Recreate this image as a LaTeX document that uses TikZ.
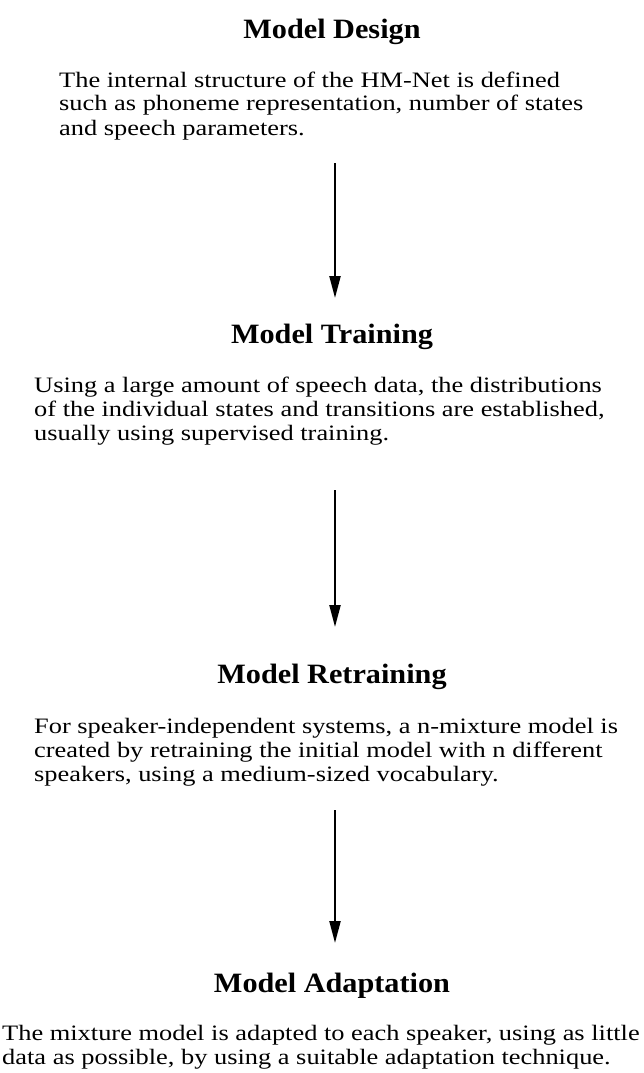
\documentclass[tikz,border=0pt]{standalone}
\usepackage{fontspec}
\setmainfont{Liberation Serif}
\newfontfamily\titlefont{Liberation Serif}[FakeStretch=1.08]
\newfontfamily\bodyfont{Liberation Serif}[FakeStretch=1.2]
\usetikzlibrary{arrows.meta}
\tikzset{
  title/.style={anchor=base, inner sep=0pt, font=\titlefont\bfseries\fontsize{28}{30}\selectfont},
  body/.style={anchor=base west, inner sep=0pt, align=left, font=\bodyfont\fontsize{22}{24}\selectfont},
  flow/.style={line width=2.2pt, -{Triangle[length=22pt,width=11pt]}}
}
\begin{document}
\begin{tikzpicture}[x=1pt,y=-1pt]
\useasboundingbox (0,0) rectangle (643,1073);
\node[title] (t1) at (332,39) {Model Design};
\node[body] (b1) at (59,135) {The internal structure of the HM-Net is defined\\such as phoneme representation, number of states\\and speech parameters.};
\coordinate (a1s) at (335,163);
\coordinate (a1e) at (335,298);
\draw[flow] (a1s) -- (a1e);
\node[title] (t2) at (332,343) {Model Training};
\node[body] (b2) at (34,440) {Using a large amount of speech data, the distributions\\of the individual states and transitions are established,\\usually using supervised training.};
\coordinate (a2s) at (335,490);
\coordinate (a2e) at (335,627);
\draw[flow] (a2s) -- (a2e);
\node[title] (t3) at (332,683) {Model Retraining};
\node[body] (b3) at (34,781) {For speaker-independent systems, a n-mixture model is\\created by retraining the initial model with n different\\speakers, using a medium-sized vocabulary.};
\coordinate (a3s) at (335,810);
\coordinate (a3e) at (335,943);
\draw[flow] (a3s) -- (a3e);
\node[title] (t4) at (332,992) {Model Adaptation};
\node[body] (b4) at (2,1064) {The mixture model is adapted to each speaker, using as little\\data as possible, by using a suitable adaptation technique.};
\end{tikzpicture}
\end{document}
